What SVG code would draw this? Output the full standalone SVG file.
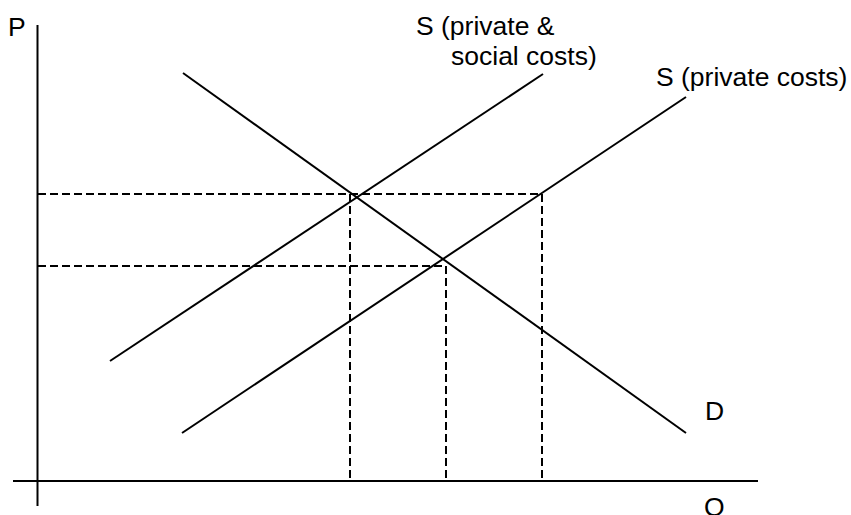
<svg xmlns="http://www.w3.org/2000/svg" width="851" height="515" viewBox="0 0 851 515">
<style>
.ln{stroke:#000;stroke-width:2;fill:none}
.ds{stroke:#000;stroke-width:2;fill:none;stroke-dasharray:8 4}
text{font-family:"Liberation Sans",Arial,sans-serif;font-size:26.5px;fill:#000}
</style>
<rect width="851" height="515" fill="#fff"/>
<g id="axes">
<line class="ln" x1="37.5" y1="25" x2="37.5" y2="506"/>
<line class="ln" x1="13" y1="481" x2="758" y2="481"/>
<text x="8" y="36">P</text>
<text x="704" y="516">Q</text>
</g>
<g id="connectors">
<polyline class="ds" points="38,194 542,194 542,481"/>
<line class="ds" x1="350" y1="194" x2="350" y2="481"/>
<polyline class="ds" points="38,266 446,266 446,481"/>
</g>
<g id="demand">
<line class="ln" x1="183" y1="73" x2="686" y2="433"/>
<text x="705" y="420">D</text>
</g>
<g id="supply-social">
<line class="ln" x1="110" y1="361" x2="543" y2="74"/>
<text x="416" y="35">S (private &amp;</text>
<text x="451" y="65">social costs)</text>
</g>
<g id="supply-private">
<line class="ln" x1="182" y1="433" x2="686" y2="97"/>
<text x="656" y="86">S (private costs)</text>
</g>
</svg>
